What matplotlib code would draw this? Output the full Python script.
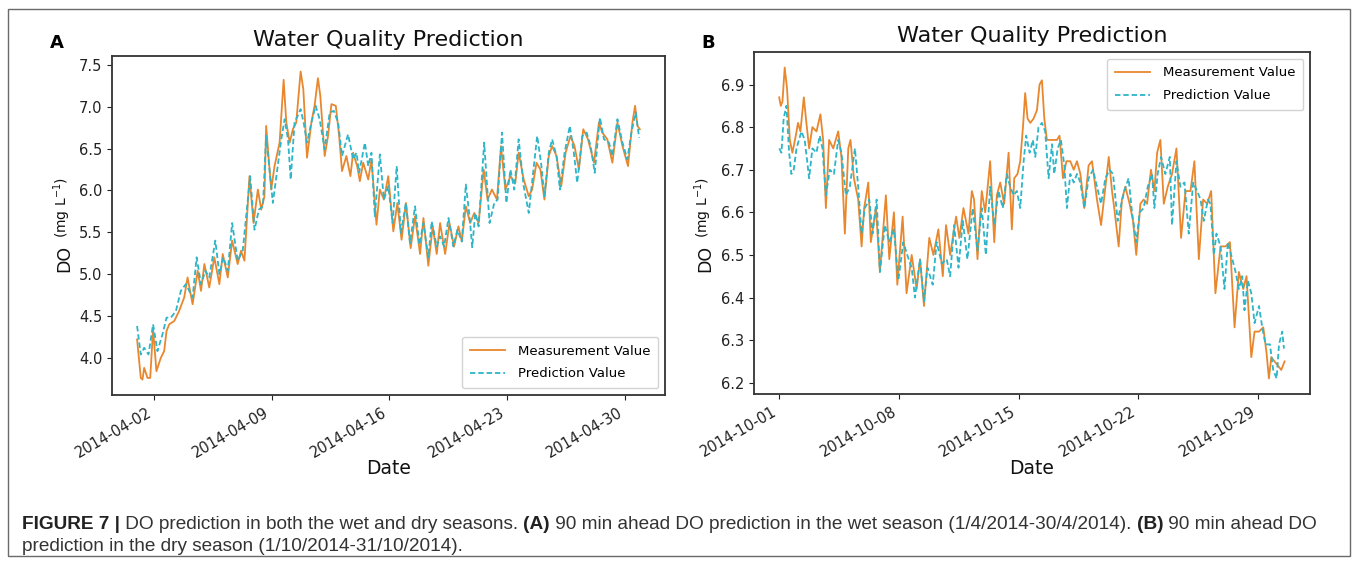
import numpy as np
import pandas as pd
import matplotlib
matplotlib.use("Agg")
import matplotlib.pyplot as plt
import matplotlib.dates as mdates
from matplotlib.patches import Rectangle

plt.rcParams["font.family"] = ["DejaVu Sans"]

ORANGE = "#e8872d"
CYAN = "#2db5c8"

# ===== panel A: wet season (days since 2014-04-01 00:00) =====
A_START = "2014-04-01"
A_MEAS_DAY = [0.00, 0.22, 0.32, 0.42, 0.62, 0.78, 0.95, 1.15, 1.41, 1.61, 1.75, 1.91, 2.21, 2.50, 2.80,
              3.00, 3.30, 3.60, 3.80, 4.00, 4.29, 4.59, 4.89, 5.09, 5.39, 5.65, 5.98, 6.18, 6.38, 6.68,
              6.92, 7.18, 7.38, 7.57, 7.67, 7.97, 8.17, 8.47, 8.71, 8.87, 9.07, 9.26, 9.46, 9.72, 9.88,
              10.10, 10.36, 10.55, 10.75, 10.89, 11.15, 11.35, 11.55, 11.81, 12.01, 12.18, 12.44, 12.68,
              12.84, 13.08, 13.24, 13.44, 13.74, 13.93, 14.23, 14.43, 14.67, 14.93, 15.23, 15.47, 15.72,
              15.98, 16.26, 16.52, 16.82, 17.02, 17.31, 17.57, 17.81, 18.01, 18.31, 18.57, 18.84, 19.10,
              19.30, 19.54, 19.80, 20.04, 20.30, 20.60, 20.83, 21.09, 21.39, 21.63, 21.89, 22.19, 22.48,
              22.68, 22.98, 23.28, 23.48, 23.74, 23.97, 24.21, 24.47, 24.67, 24.93, 25.21, 25.47, 25.76,
              26.00, 26.26, 26.52, 26.80, 27.16, 27.45, 27.65, 27.95, 28.25, 28.55, 28.85, 29.18, 29.44,
              29.60, 29.74, 29.88]
A_MEAS = [4.22, 3.76, 3.74, 3.88, 3.76, 3.76, 4.34, 3.84, 4.00, 4.08, 4.32, 4.40, 4.44, 4.56, 4.72,
          4.96, 4.64, 5.04, 4.80, 5.12, 4.84, 5.20, 4.88, 5.24, 4.96, 5.40, 5.12, 5.28, 5.16, 6.17,
          5.61, 6.01, 5.77, 5.93, 6.77, 6.01, 6.29, 6.57, 7.32, 6.81, 6.57, 6.73, 6.81, 7.42, 7.21,
          6.39, 6.81, 7.01, 7.34, 7.13, 6.41, 6.65, 7.03, 7.01, 6.65, 6.23, 6.41, 6.17,
          6.45, 6.29, 6.11, 6.33, 6.13, 6.37, 5.59, 6.01, 5.89, 6.17, 5.51, 5.85, 5.41,
          5.85, 5.31, 5.69, 5.24, 5.67, 5.10, 5.57, 5.24, 5.61, 5.24, 5.61, 5.33, 5.57,
          5.39, 5.81, 5.61, 5.73, 5.61, 6.25, 5.89, 6.01, 5.89, 6.53, 6.01, 6.17, 6.09,
          6.45, 6.13, 5.93, 6.01, 6.33, 6.25, 5.89, 6.41, 6.53, 6.41, 6.05, 6.45, 6.65,
          6.53, 6.25, 6.73, 6.61, 6.33, 6.81, 6.69, 6.61, 6.33, 6.81, 6.53, 6.29, 6.81,
          7.01, 6.77, 6.73]
A_PRED_DAY = [0.00, 0.22, 0.42, 0.68, 0.95, 1.21, 1.51, 1.75, 2.01, 2.31, 2.60, 2.90, 3.30, 3.54, 3.80,
              4.06, 4.29, 4.65, 4.89, 5.13, 5.39, 5.65, 5.98, 6.28, 6.72, 6.98, 7.24, 7.48, 7.67, 8.07,
              8.57, 8.77, 8.97, 9.13, 9.36, 9.72, 9.90, 10.10, 10.36, 10.61, 10.85, 11.15, 11.45, 11.69,
              11.95, 12.18, 12.54, 12.84, 13.04, 13.20, 13.54, 13.74, 13.93, 14.13, 14.43, 14.67, 14.93,
              15.19, 15.43, 15.68, 15.98, 16.22, 16.52, 16.78, 17.02, 17.31, 17.51, 17.81, 18.01, 18.25,
              18.51, 18.80, 19.04, 19.30, 19.54, 19.76, 19.92, 20.10, 20.30, 20.63, 20.95, 21.23, 21.43,
              21.69, 21.95, 22.19, 22.42, 22.68, 22.98, 23.28, 23.54, 23.78, 24.01, 24.21, 24.47, 24.67,
              24.93, 25.13, 25.41, 25.72, 25.96, 26.16, 26.46, 26.72, 26.96, 27.20, 27.51, 27.75, 28.05,
              28.25, 28.55, 28.85, 29.14, 29.38, 29.64, 29.84]
A_PRED = [4.38, 4.04, 4.12, 4.04, 4.40, 4.08, 4.28, 4.48, 4.48, 4.56, 4.80, 4.88, 4.72, 5.20, 4.88,
          5.04, 4.96, 5.40, 5.00, 5.20, 5.04, 5.61, 5.16, 5.28, 6.17, 5.53, 5.77, 5.81, 6.65, 5.85,
          6.61, 6.85, 6.61, 6.13, 6.81, 6.97, 6.81, 6.57, 6.81, 7.01, 6.85, 6.49, 6.93, 6.95,
          6.81, 6.41, 6.67, 6.37, 6.45, 6.21, 6.57, 6.29, 6.45, 5.69, 6.43, 5.89, 6.05,
          5.61, 6.29, 5.49, 5.85, 5.37, 5.81, 5.35, 5.61, 5.20, 5.63, 5.33, 5.45, 5.33,
          5.67, 5.33, 5.53, 5.39, 6.07, 5.69, 5.32, 5.73, 5.57, 6.57, 5.61, 5.85, 5.89,
          6.69, 5.85, 6.25, 6.01, 6.61, 6.05, 5.73, 6.21, 6.65, 6.33, 5.93, 6.45, 6.61,
          6.41, 6.01, 6.45, 6.77, 6.45, 6.09, 6.65, 6.69, 6.53, 6.21, 6.87, 6.61, 6.57,
          6.41, 6.85, 6.57, 6.37, 6.69, 6.93, 6.63]
A_XTICKS = ["2014-04-02", "2014-04-09", "2014-04-16", "2014-04-23", "2014-04-30"]
A_YTICKS = [4.0, 4.5, 5.0, 5.5, 6.0, 6.5, 7.0, 7.5]

# ===== panel B: dry season (days since 2014-10-01 00:00) =====
B_START = "2014-10-01"
B_MEAS_DAY = [0.00, 0.09, 0.19, 0.32, 0.46, 0.62, 0.77, 0.97, 1.10, 1.24, 1.44, 1.59, 1.75, 1.94, 2.18,
              2.41, 2.57, 2.73, 2.92, 3.16, 3.45, 3.64, 3.84, 4.04, 4.17, 4.37, 4.62, 4.82, 4.97, 5.21,
              5.36, 5.66, 5.89, 6.24, 6.44, 6.71, 6.91, 7.22, 7.45, 7.75, 8.04, 8.24, 8.47, 8.78, 9.02,
              9.31, 9.57, 9.76, 10.00, 10.35, 10.54, 10.78, 11.07, 11.27, 11.40, 11.60, 11.85, 12.05,
              12.34, 12.58, 12.73, 12.93, 13.16, 13.42, 13.61, 13.75, 13.94, 14.10, 14.26, 14.39, 14.53,
              14.69, 14.88, 15.08, 15.23, 15.37, 15.51, 15.66, 15.86, 16.05, 16.25, 16.40, 16.60, 16.80,
              17.03, 17.23, 17.42, 17.62, 17.85, 18.10, 18.30, 18.59, 18.83, 19.08, 19.28, 19.47, 19.60,
              19.86, 20.05, 20.25, 20.50, 20.70, 20.89, 21.13, 21.32, 21.52, 21.75, 21.95, 22.11, 22.30,
              22.50, 22.73, 22.98, 23.24, 23.51, 23.77, 24.06, 24.29, 24.55, 24.80, 25.04, 25.27, 25.52,
              25.82, 26.11, 26.37, 26.64, 26.89, 27.15, 27.34, 27.62, 27.81, 28.07, 28.32, 28.51, 28.65,
              28.79, 28.98, 29.18, 29.37, 29.57]
B_MEAS = [6.87, 6.85, 6.86, 6.94, 6.89, 6.77, 6.74, 6.78, 6.81, 6.79, 6.87, 6.81, 6.75, 6.80, 6.79,
          6.83, 6.77, 6.61, 6.77, 6.75, 6.79, 6.73, 6.55, 6.75, 6.77, 6.68, 6.63, 6.52, 6.61, 6.67,
          6.53, 6.61, 6.46, 6.64, 6.49, 6.60, 6.43, 6.59, 6.41, 6.50, 6.42, 6.49, 6.38, 6.54, 6.50,
          6.56, 6.45, 6.57, 6.50, 6.59, 6.54, 6.61, 6.55, 6.65, 6.63, 6.49, 6.65, 6.60,
          6.72, 6.53, 6.64, 6.67, 6.62, 6.74, 6.56, 6.68, 6.69, 6.72, 6.80, 6.88, 6.82,
          6.81, 6.82, 6.84, 6.90, 6.91, 6.82, 6.77, 6.77, 6.77, 6.77, 6.78, 6.68, 6.72,
          6.72, 6.70, 6.72, 6.69, 6.61, 6.71, 6.72, 6.63, 6.57, 6.66, 6.73, 6.65, 6.61,
          6.52, 6.63, 6.66, 6.62, 6.58, 6.50, 6.62, 6.63, 6.62, 6.70, 6.65, 6.74, 6.77,
          6.62, 6.66, 6.69, 6.75, 6.54, 6.65, 6.65, 6.72, 6.49, 6.63, 6.62, 6.65, 6.41,
          6.52, 6.52, 6.53, 6.33, 6.46, 6.42, 6.45, 6.26, 6.32, 6.32, 6.33, 6.27, 6.21,
          6.26, 6.25, 6.24, 6.23, 6.25]
B_PRED_DAY = [0.00, 0.13, 0.26, 0.42, 0.58, 0.71, 0.85, 1.01, 1.30, 1.49, 1.75, 1.94, 2.18, 2.37, 2.53,
              2.73, 2.96, 3.20, 3.45, 3.64, 3.90, 4.13, 4.43, 4.62, 4.82, 5.01, 5.27, 5.46, 5.70, 5.89,
              6.18, 6.44, 6.71, 6.97, 7.26, 7.49, 7.75, 7.94, 8.24, 8.47, 8.67, 8.98, 9.21, 9.51, 9.80,
              10.00, 10.23, 10.49, 10.74, 11.01, 11.32, 11.60, 11.85, 12.09, 12.34, 12.58, 12.83, 13.08,
              13.32, 13.51, 13.71, 13.90, 14.10, 14.30, 14.45, 14.65, 14.84, 14.98, 15.17, 15.37, 15.56,
              15.76, 15.96, 16.09, 16.29, 16.48, 16.68, 16.83, 17.03, 17.23, 17.42, 17.62, 17.85, 18.10,
              18.36, 18.59, 18.83, 19.08, 19.33, 19.53, 19.80, 19.96, 20.19, 20.44, 20.64, 20.89, 21.09,
              21.32, 21.56, 21.81, 21.95, 22.14, 22.34, 22.59, 22.85, 22.98, 23.24, 23.47, 23.71, 23.96,
              24.22, 24.45, 24.65, 24.84, 25.08, 25.23, 25.43, 25.58, 25.82, 26.05, 26.25, 26.44, 26.70,
              26.89, 27.09, 27.22, 27.42, 27.62, 27.81, 28.07, 28.26, 28.45, 28.71, 28.90, 29.10, 29.24,
              29.43, 29.53]
B_PRED = [6.75, 6.74, 6.82, 6.85, 6.74, 6.69, 6.70, 6.75, 6.79, 6.77, 6.68, 6.75, 6.74, 6.78, 6.75,
          6.64, 6.70, 6.69, 6.77, 6.74, 6.64, 6.66, 6.75, 6.66, 6.55, 6.61, 6.63, 6.55, 6.63, 6.46,
          6.57, 6.53, 6.56, 6.44, 6.53, 6.50, 6.47, 6.40, 6.49, 6.39, 6.47, 6.43, 6.53, 6.48, 6.49,
          6.45, 6.57, 6.47, 6.58, 6.49, 6.61, 6.51, 6.61, 6.50, 6.66, 6.57, 6.65, 6.61,
          6.69, 6.66, 6.64, 6.65, 6.61, 6.72, 6.78, 6.74, 6.77, 6.73, 6.80, 6.81, 6.79,
          6.68, 6.76, 6.69, 6.75, 6.77, 6.71, 6.61, 6.69, 6.67, 6.69, 6.67, 6.61, 6.68,
          6.70, 6.66, 6.62, 6.68, 6.70, 6.69, 6.58, 6.61, 6.65, 6.68, 6.60, 6.53, 6.60,
          6.61, 6.66, 6.69, 6.61, 6.69, 6.73, 6.69, 6.73, 6.57, 6.72, 6.66, 6.67, 6.55,
          6.67, 6.65, 6.63, 6.58, 6.63, 6.62, 6.50, 6.55, 6.52, 6.42, 6.53, 6.50, 6.46,
          6.42, 6.45, 6.37, 6.44, 6.41, 6.34, 6.38, 6.33, 6.29, 6.29, 6.23, 6.21, 6.29,
          6.32, 6.28]
B_XTICKS = ["2014-10-01", "2014-10-08", "2014-10-15", "2014-10-22", "2014-10-29"]
B_YTICKS = [6.2, 6.3, 6.4, 6.5, 6.6, 6.7, 6.8, 6.9]

CAPTION_1 = [("FIGURE 7 |", "bold"), (" DO prediction in both the wet and dry seasons. ", "normal"),
             ("(A)", "bold"), (" 90 min ahead DO prediction in the wet season (1/4/2014-30/4/2014). ", "normal"),
             ("(B)", "bold"), (" 90 min ahead DO", "normal")]
CAPTION_2 = "prediction in the dry season (1/10/2014-31/10/2014)."


def to_dates(start, days):
    return pd.Timestamp(start) + pd.to_timedelta(np.asarray(days), unit="D")


fig = plt.figure(figsize=(13.57, 5.63), dpi=100)

# outer frame round the whole figure
fig.add_artist(Rectangle((0.0059, 0.0124), 0.989, 0.9716, transform=fig.transFigure,
                         fill=False, ec="#6a6a6a", lw=1.0))

# (letter, axes rect, letter x, ylabel x, ...)
panels = [
    ("A", [0.0825, 0.2984, 0.4075, 0.602], 0.042, 0.0472, A_START, A_MEAS_DAY, A_MEAS,
     A_PRED_DAY, A_PRED, A_XTICKS, A_YTICKS, "lower right"),
    ("B", [0.5556, 0.3002, 0.4097, 0.6075], 0.5217, 0.5195, B_START, B_MEAS_DAY, B_MEAS,
     B_PRED_DAY, B_PRED, B_XTICKS, B_YTICKS, "upper right"),
]

for (letter, rect, lx, ylx, start, md, mv, pdays, pv, xt, yt, legloc) in panels:
    ax = fig.add_axes(rect)
    ax.plot(to_dates(start, md), mv, color=ORANGE, lw=1.3, label="Measurement Value")
    ax.plot(to_dates(start, pdays), pv, color=CYAN, lw=1.3, ls=(0, (3, 1.6)), label="Prediction Value")

    ax.set_xticks(pd.to_datetime(xt))
    ax.xaxis.set_major_formatter(mdates.DateFormatter("%Y-%m-%d"))
    ax.set_yticks(yt)
    ax.tick_params(labelsize=10.5, colors="#222222", length=3.5)
    for lab in ax.get_xticklabels():
        lab.set_rotation(30)
        lab.set_ha("right")
    for s in ax.spines.values():
        s.set_color("#333333")
        s.set_linewidth(1.3)

    ax.set_title("Water Quality Prediction", fontsize=16, pad=7, color="#111111")
    ax.set_xlabel("Date", fontsize=13.5, color="#111111")
    ax.xaxis.set_label_coords(0.5, -0.19)

    ax.legend(loc=legloc, fontsize=9.5, handlelength=2.6, handletextpad=1.0,
              borderpad=0.6, labelspacing=0.75, framealpha=0.85, edgecolor="#cccccc")

    # y label: "DO" then the unit, stacked upwards
    t_do = fig.text(ylx, 0.517, "DO", rotation=90, fontsize=12.5, ha="center", va="bottom",
                    color="#111111")
    ax.annotate("(mg L$^{-1}$)", xy=(1.0, 1.0), xycoords=t_do, xytext=(0, 5),
                textcoords="offset points", rotation=90, fontsize=10, ha="right", va="bottom",
                color="#111111", annotation_clip=False)

    fig.text(lx, 0.923, letter, fontsize=13, weight="bold", ha="center", va="center")

# caption with bold parts, chained left to right
cap = fig.add_axes([0, 0, 1, 1])
cap.axis("off")
cap_font = ["Liberation Sans Narrow", "Liberation Sans", "DejaVu Sans"]
CAP_SIZE = 13.7
prev = None
for txt, w in CAPTION_1:
    col = "#222222" if w == "bold" else "#333333"
    if prev is None:
        prev = cap.text(0.0162, 0.0604, txt, fontsize=CAP_SIZE, weight=w, family=cap_font,
                        color=col, ha="left", va="baseline", transform=fig.transFigure)
    else:
        prev = cap.annotate(txt, xy=(1, 0), xycoords=prev, fontsize=CAP_SIZE, weight=w,
                            family=cap_font, color=col, ha="left", va="bottom")
cap.text(0.0162, 0.0213, CAPTION_2, fontsize=CAP_SIZE, family=cap_font, color="#333333",
         ha="left", va="baseline", transform=fig.transFigure)

fig.savefig("out.png", dpi=100)
